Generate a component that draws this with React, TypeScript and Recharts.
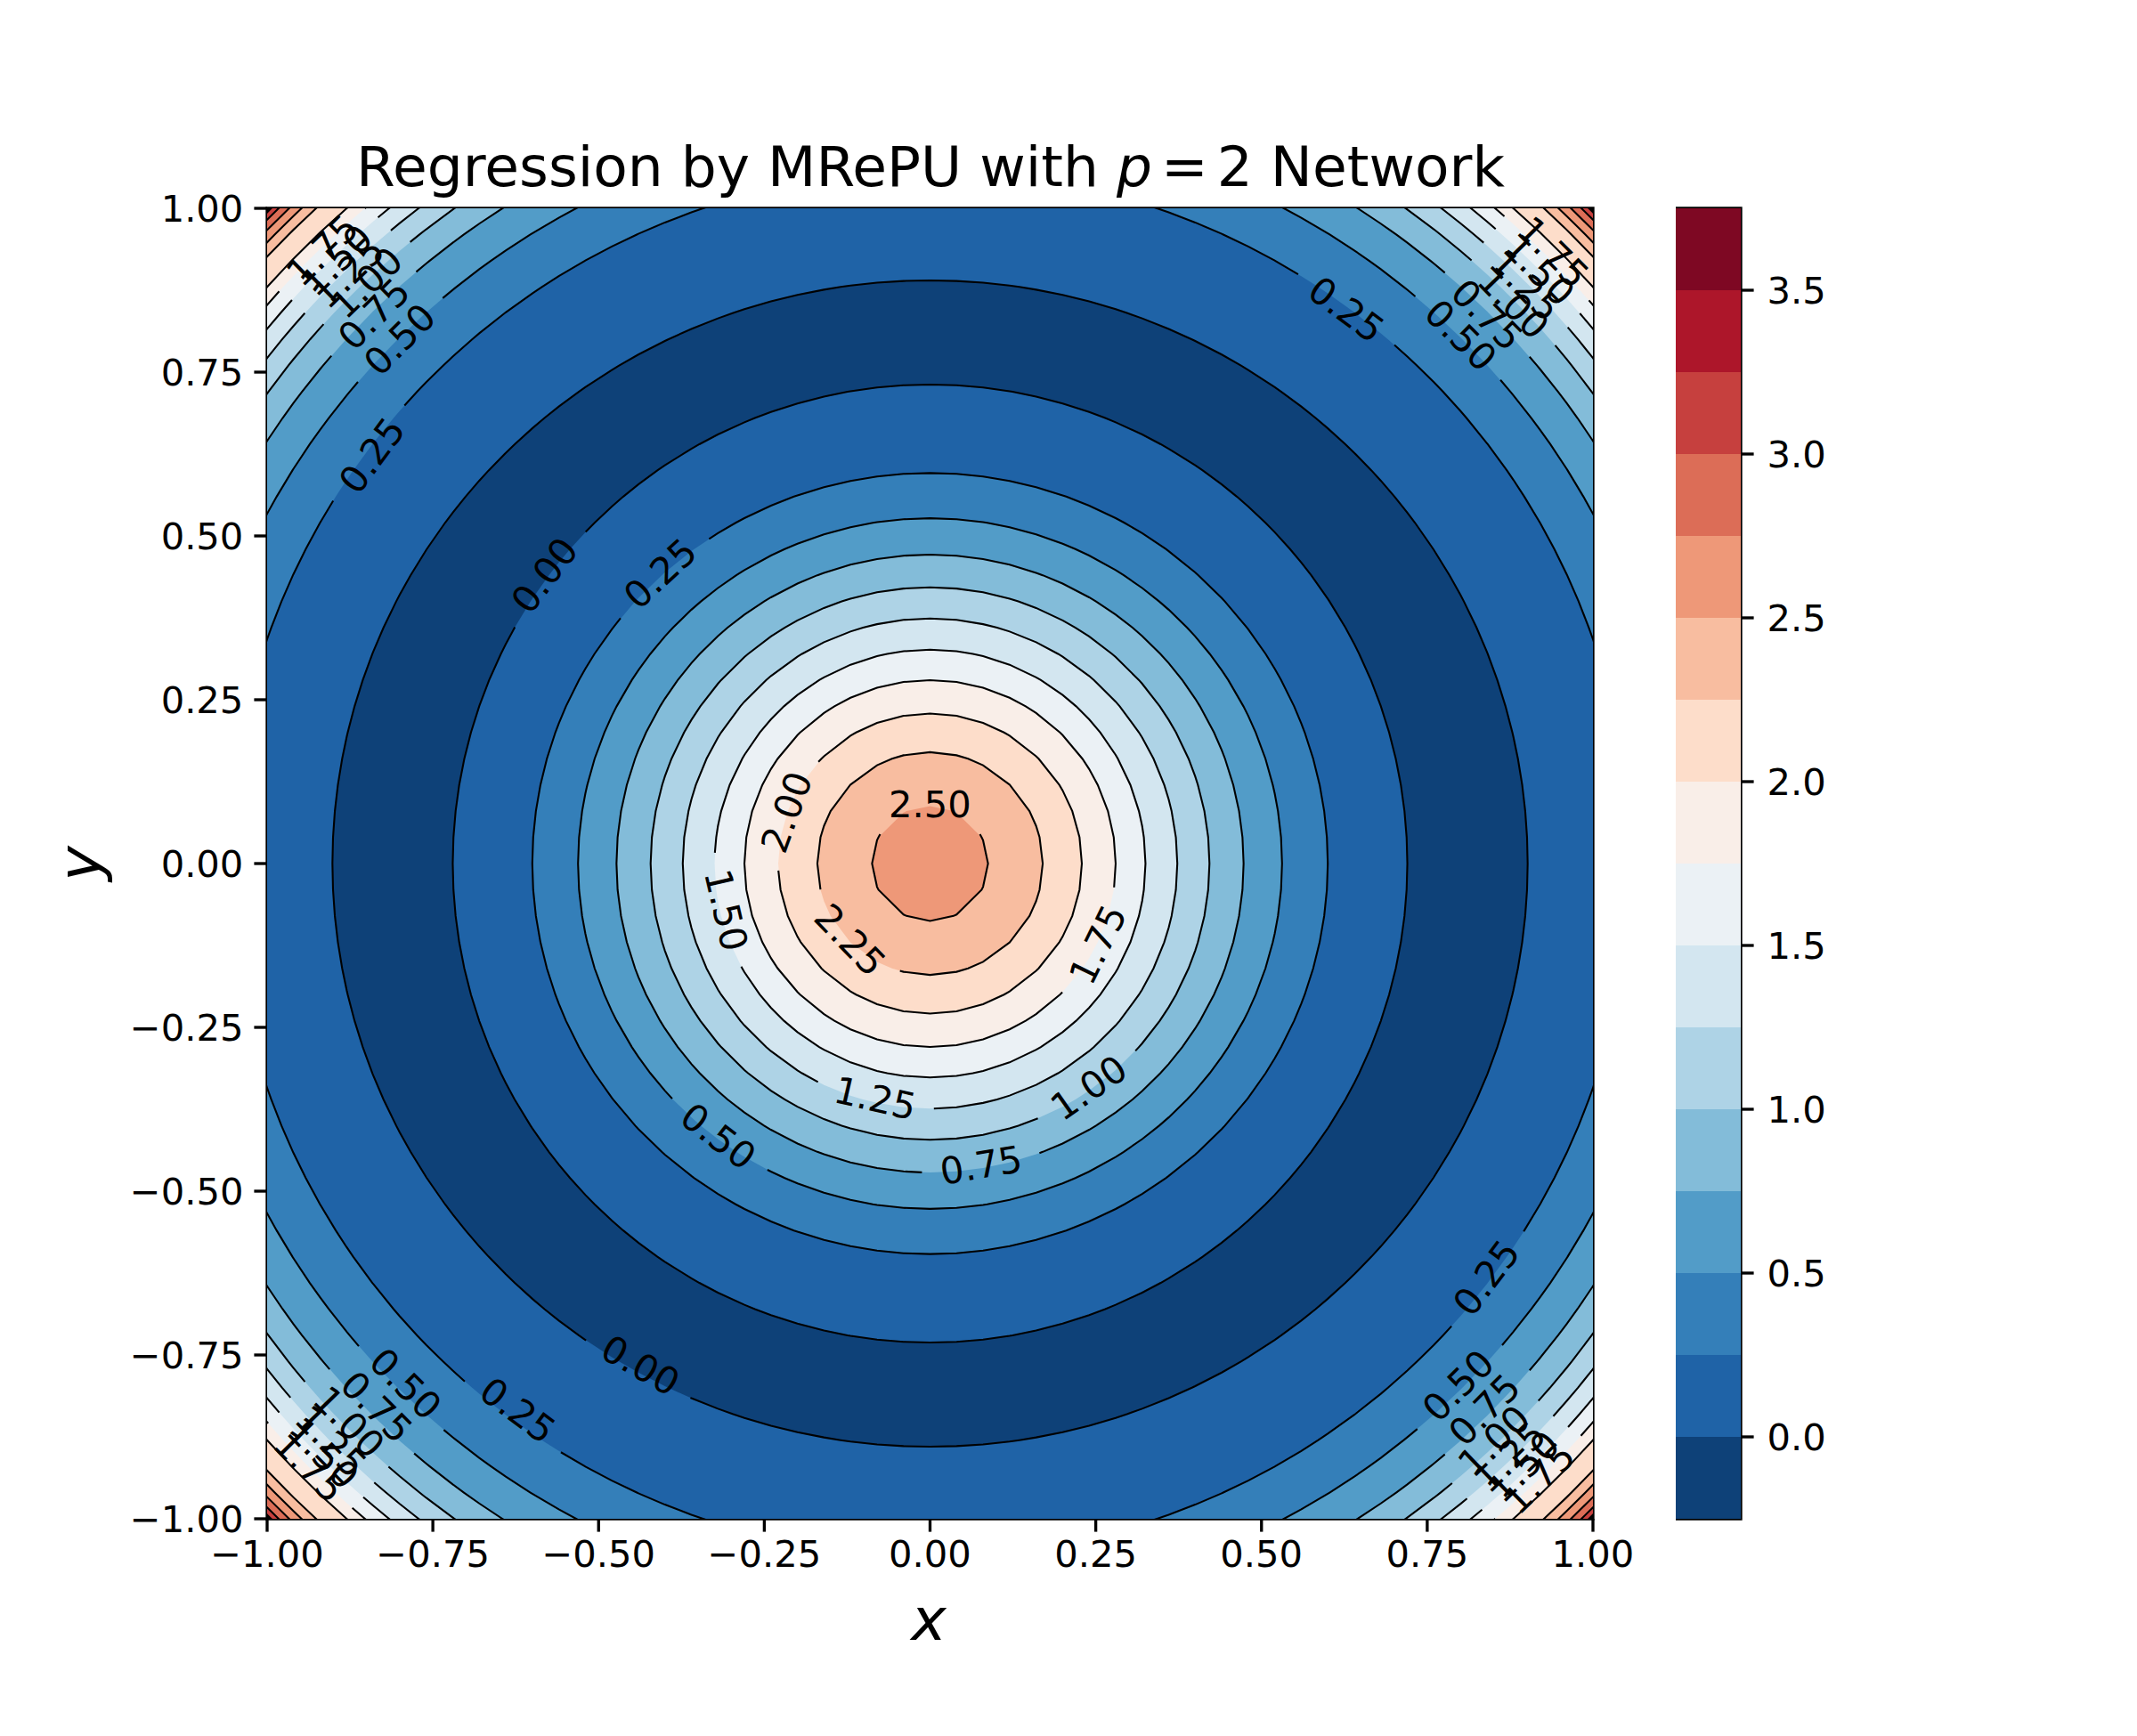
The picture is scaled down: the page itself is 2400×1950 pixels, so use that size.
import React from 'react';
import {
  ScatterChart, Scatter, XAxis, YAxis, ReferenceArea,
  BarChart, Bar,
} from 'recharts';

const FONT = '"DejaVu Sans", sans-serif';

const BAND_COLORS = [
  '#0e4178', '#1f63a7', '#347fb9', '#529cc8', '#83bcd9', '#aed3e6', '#d3e6f0', '#ebf1f5',
  '#f9eee8', '#fdddca', '#f8bda0', '#ee9878', '#dc6d57', '#c6403e', '#ad162a', '#7e0823',
];
const BAND_LOWER = [-0.25, 0, 0.25, 0.5, 0.75, 1, 1.25, 1.5, 1.75, 2, 2.25, 2.5, 2.75, 3, 3.25, 3.5];

// Contour radii read along the horizontal (X) and vertical (Y) axes
const OUTER_LEVELS = [0, 0.25, 0.5, 0.75, 1, 1.25, 1.5, 1.75, 2, 2.25, 2.5, 2.75, 3, 3.25];
const OUTER_RADII_X = [0.9015, 1.057, 1.1336, 1.19, 1.2307, 1.263, 1.2907, 1.314, 1.332, 1.363, 1.378, 1.391, 1.402, 1.41];
const OUTER_RADII_Y = [0.89, 1.057, 1.1336, 1.19, 1.2307, 1.263, 1.2907, 1.314, 1.332, 1.363, 1.378, 1.391, 1.402, 1.41];
const INNER_LEVELS = [0, 0.25, 0.5, 0.75, 1, 1.25, 1.5, 1.75, 2, 2.25, 2.5];
const INNER_RADII_X = [0.72, 0.6, 0.531, 0.473, 0.4215, 0.373, 0.325, 0.28, 0.229, 0.17, 0.0875];
const INNER_RADII_Y = [0.731, 0.596, 0.527, 0.4715, 0.4216, 0.374, 0.3265, 0.28, 0.229, 0.17, 0.0875];

const AXIS_TICKS = [-1, -0.75, -0.5, -0.25, 0, 0.25, 0.5, 0.75, 1];
const COLORBAR_TICKS = [0, 0.5, 1, 1.5, 2, 2.5, 3, 3.5];

// level, polar angle of the label (degrees), distance of the label from the centre
const INNER_LABELS: [number, number, number][] = [
  [2.5, 90, 0.0915], [2.25, 224, 0.167], [2, 160, 0.231], [1.75, -26, 0.281], [1.5, 193, 0.315],
  [1.25, 257, 0.367], [1, -55, 0.417], [0.75, -80.5, 0.466], [0.5, 232.5, 0.524],
  [0.25, 132.6, 0.602], [0, 142.9, 0.73],
];
const OUTER_LABELS: [number, number, number][] = [
  [0, 240.3, 0.881],
  [0.25, 233.3, 1.04], [0.25, 143.5, 1.048], [0.25, 53.4, 1.054], [0.25, -37, 1.05],
  [0.5, 135, 1.132], [0.5, 45.2, 1.137], [0.5, 225.1, 1.12], [0.5, -45, 1.126],
  [0.75, 135, 1.187], [0.75, 44.9, 1.187], [0.75, 224.8, 1.176], [0.75, -44.9, 1.18],
  [1, 133.8, 1.229], [1, 44.2, 1.228], [1, 224.2, 1.222], [1, -46, 1.224],
  [1.25, 134.2, 1.259], [1.25, 44.5, 1.26], [1.25, 224.3, 1.262], [1.25, -46, 1.258],
  [1.5, 134.2, 1.285], [1.5, 44.6, 1.291], [1.5, 224.5, 1.283], [1.5, -45.8, 1.283],
  [1.75, 134.4, 1.311], [1.75, 44.8, 1.325], [1.75, 224.5, 1.312], [1.75, -45.6, 1.312],
];

const GRID_STEP = 0.04;
const PLOT = { left: 300, right: 1789, top: 234, bottom: 1706 };
const PX_PER_UNIT = 740;
const GAP_PX = 67;

type P = { x: number; y: number };
const rad = (d: number) => (d * Math.PI) / 180;
const norm = (a: number) => ((a % 360) + 360) % 360;
const polar = (r: number, deg: number): P => ({ x: r * Math.cos(rad(deg)), y: r * Math.sin(rad(deg)) });
const onRing = (rx: number, ry: number, deg: number): P => {
  const c = Math.cos(rad(deg));
  const s = Math.sin(rad(deg));
  return polar(1 / Math.sqrt((c * c) / (rx * rx) + (s * s) / (ry * ry)), deg);
};

// Contour polygons are linear between grid lines, as in the reference
function ringVertices(rx: number, ry: number) {
  const seen = new Map<string, { a: number; p: P }>();
  const add = (p: P) => {
    const a = norm((Math.atan2(p.y, p.x) * 180) / Math.PI);
    seen.set(a.toFixed(4), { a, p });
  };
  for (let k = -50; k <= 50; k++) {
    const c = k * GRID_STEP;
    if (Math.abs(c) < rx) {
      const s = ry * Math.sqrt(1 - (c * c) / (rx * rx));
      add({ x: c, y: s });
      add({ x: c, y: -s });
    }
    if (Math.abs(c) < ry) {
      const s = rx * Math.sqrt(1 - (c * c) / (ry * ry));
      add({ x: s, y: c });
      add({ x: -s, y: c });
    }
  }
  return [...seen.values()].sort((u, v) => u.a - v.a);
}

const closedRing = (rx: number, ry: number): P[] => {
  const v = ringVertices(rx, ry).map((e) => e.p);
  return [...v, v[0]];
};

function ringArcs(rx: number, ry: number, labelAngles: number[]): P[][] {
  if (!labelAngles.length) return [closedRing(rx, ry)];
  const half = ((GAP_PX / (((rx + ry) / 2) * PX_PER_UNIT)) * 180) / Math.PI;
  const gaps = labelAngles.map(norm).sort((a, b) => a - b);
  const verts = ringVertices(rx, ry);
  return gaps.map((g, i) => {
    const start = g + half;
    const next = i + 1 < gaps.length ? gaps[i + 1] : gaps[0] + 360;
    const end = next - half;
    const mid = [...verts, ...verts.map((e) => ({ a: e.a + 360, p: e.p }))]
      .filter((e) => e.a > start && e.a < end)
      .map((e) => e.p);
    return [onRing(rx, ry, start), ...mid, onRing(rx, ry, end)];
  });
}

const FILLS: { pts: P[]; color: string }[] = [
  ...OUTER_LEVELS.map((l, i) => ({ l, rx: OUTER_RADII_X[i], ry: OUTER_RADII_Y[i] }))
    .sort((a, b) => b.rx - a.rx)
    .map(({ l, rx, ry }) => ({ pts: closedRing(rx, ry), color: BAND_COLORS[BAND_LOWER.indexOf(l) - 1] })),
  ...INNER_LEVELS.map((l, i) => ({ l, rx: INNER_RADII_X[i], ry: INNER_RADII_Y[i] }))
    .sort((a, b) => b.rx - a.rx)
    .map(({ l, rx, ry }) => ({ pts: closedRing(rx, ry), color: BAND_COLORS[BAND_LOWER.indexOf(l)] })),
];

const LINES: P[][] = [
  ...OUTER_LEVELS.flatMap((l, i) =>
    ringArcs(OUTER_RADII_X[i], OUTER_RADII_Y[i], OUTER_LABELS.filter((d) => d[0] === l).map((d) => d[1]))),
  ...INNER_LEVELS.flatMap((l, i) =>
    ringArcs(INNER_RADII_X[i], INNER_RADII_Y[i], INNER_LABELS.filter((d) => d[0] === l).map((d) => d[1]))),
];

const labelPoint = ([level, deg, r]: [number, number, number]) => {
  let rot = (Math.atan2(Math.cos(rad(deg)), Math.sin(rad(deg))) * 180) / Math.PI;
  if (rot > 90) rot -= 180;
  if (rot <= -90) rot += 180;
  return { ...polar(r, deg), text: level.toFixed(2), rot };
};
const LABEL_POINTS = [...INNER_LABELS.map(labelPoint), ...OUTER_LABELS.map(labelPoint)];

const LABEL_SIZE = 41.67;
const ContourLabel = (props: any) => {
  const { cx, cy, payload } = props;
  return (
    <text
      x={cx}
      y={cy + LABEL_SIZE * 0.365}
      textAnchor="middle"
      fontSize={LABEL_SIZE}
      fontFamily={FONT}
      fill="#000"
      transform={`rotate(${payload.rot} ${cx} ${cy})`}
    >
      {payload.text}
    </text>
  );
};
const NoPoint = () => null;

const fmt2 = (v: number) => (v < 0 ? '\u2212' : '') + Math.abs(v).toFixed(2);
const tickStyle = { fontSize: 41.67, fill: '#000', fontFamily: FONT };
const tickLine = { stroke: '#000', strokeWidth: 3.33 };

const colorRow = [Object.fromEntries(BAND_LOWER.map((l, i) => [`b${i}`, i === 0 ? -0.25 : 0.25]))];

export default function App() {
  return (
    <div style={{ position: 'absolute', left: 0, top: 0, width: 2400, height: 1950, background: '#fff' }}>
      <div style={{ position: 'absolute', left: 0, top: 0 }}>
        <ScatterChart
          width={2400}
          height={1950}
          margin={{ left: 0, top: PLOT.top, right: 2400 - PLOT.right, bottom: 0 }}
        >
          <XAxis
            type="number"
            dataKey="x"
            domain={[-1, 1]}
            allowDataOverflow
            ticks={AXIS_TICKS}
            interval={0}
            tickFormatter={fmt2}
            tick={tickStyle}
            tickLine={tickLine}
            tickSize={14.6}
            tickMargin={10}
            axisLine={false}
            height={1950 - PLOT.bottom}
          />
          <YAxis
            type="number"
            dataKey="y"
            domain={[-1, 1]}
            allowDataOverflow
            ticks={AXIS_TICKS}
            interval={0}
            tickFormatter={fmt2}
            tick={tickStyle}
            tickLine={tickLine}
            tickSize={14.6}
            tickMargin={12}
            axisLine={false}
            width={PLOT.left}
          />
          <ReferenceArea x1={-1} x2={1} y1={-1} y2={1} fill={BAND_COLORS[14]} fillOpacity={1} stroke="none" />
          {FILLS.map((f, i) => (
            <Scatter
              key={`fill${i}`}
              data={f.pts}
              isAnimationActive={false}
              shape={NoPoint}
              line={{ fill: f.color, stroke: 'none' }}
            />
          ))}
          {LINES.map((pts, i) => (
            <Scatter
              key={`line${i}`}
              data={pts}
              isAnimationActive={false}
              shape={NoPoint}
              line={{ fill: 'none', stroke: '#000', strokeWidth: 2.08 }}
            />
          ))}
          <Scatter data={LABEL_POINTS} isAnimationActive={false} shape={ContourLabel} />
          <ReferenceArea x1={-1} x2={1} y1={-1} y2={1} fill="none" stroke="#000" strokeWidth={3.33} ifOverflow="visible" />
          <text x={1045} y={209} textAnchor="middle" fontSize={63} fontFamily={FONT} fill="#000">
            Regression by MRePU with <tspan fontStyle="italic">p</tspan>
            <tspan dx={10}>=</tspan>
            <tspan dx={10}>2</tspan> Network
          </text>
          <text x={1043} y={1842} textAnchor="middle" fontSize={66.67} fontStyle="italic" fontFamily={FONT} fill="#000">x</text>
          <text
            x={112}
            y={970}
            textAnchor="middle"
            fontSize={66.67}
            fontStyle="italic"
            fontFamily={FONT}
            fill="#000"
            transform="rotate(-90 112 970)"
          >
            y
          </text>
        </ScatterChart>
      </div>
      <div style={{ position: 'absolute', left: 1882, top: 234 - 10 }}>
        <BarChart
          width={300}
          height={1472 + 20}
          data={colorRow}
          stackOffset="sign"
          barCategoryGap={0}
          margin={{ left: 0, top: 10, right: 0, bottom: 10 }}
        >
          <XAxis hide dataKey={() => 'c'} />
          <YAxis
            orientation="right"
            type="number"
            domain={[-0.25, 3.75]}
            allowDataOverflow
            ticks={COLORBAR_TICKS}
            interval={0}
            tickFormatter={(v: number) => v.toFixed(1)}
            tick={tickStyle}
            tickLine={tickLine}
            tickSize={14.6}
            tickMargin={15}
            axisLine={false}
            width={227}
          />
          {BAND_LOWER.map((l, i) => (
            <Bar key={l} dataKey={`b${i}`} stackId="cb" fill={BAND_COLORS[i]} isAnimationActive={false} />
          ))}
          <ReferenceArea y1={-0.25} y2={3.75} fill="none" stroke="#000" strokeWidth={3.33} ifOverflow="visible" />
        </BarChart>
      </div>
    </div>
  );
}
